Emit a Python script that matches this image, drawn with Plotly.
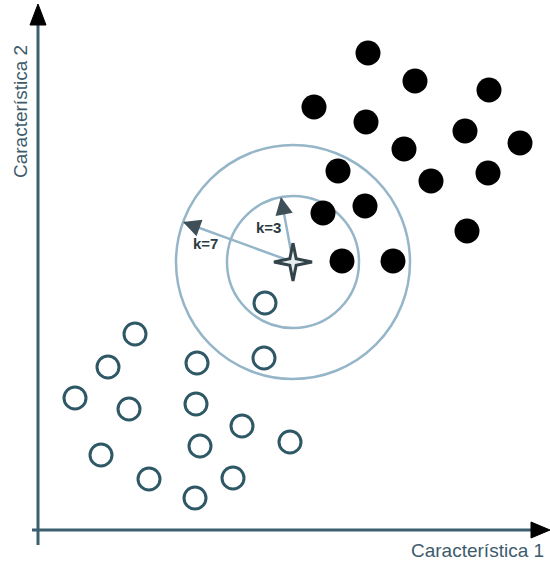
import math
import plotly.graph_objects as go

# ---- data (feature space, pixel-like units; y grows downward) ----
class_a_x = [368, 415, 489, 314, 366, 465, 520, 404, 338, 488, 431, 365, 323, 467, 342, 393]
class_a_y = [53, 81, 90, 107, 122, 131, 143, 149, 171, 173, 181, 206, 213, 231, 261, 261]

class_b_x = [265, 135, 108, 197, 264, 75, 129, 196, 242, 290, 101, 200, 149, 233, 195]
class_b_y = [303, 334, 367, 363, 358, 398, 409, 404, 426, 442, 455, 446, 479, 478, 498]

query_x = [293]
query_y = [262]

k_labels = ["k=3", "k=7"]
k_radius = [66, 117]
k_angle_deg = [259.5, 200.0]
k_label_x = [268, 205]
k_label_y = [227, 243]

axis_title_x = "Característica 1"
axis_title_y = "Característica 2"

W, H = 550, 569
circle_col = "#95b5c8"
axis_col = "#3b5f6e"
text_col = "#2b3b42"
open_col = "#2f5866"

fig = go.Figure()

shapes = []
annotations = []

# neighbourhood circles
cx, cy = query_x[0], query_y[0]
for r in k_radius:
    shapes.append(dict(type="circle", xref="x", yref="y",
                       x0=cx - r, x1=cx + r, y0=cy - r, y1=cy + r,
                       line=dict(color=circle_col, width=2.5), layer="below"))

# radius arrows
for lab, r, ang, lx, ly in zip(k_labels, k_radius, k_angle_deg, k_label_x, k_label_y):
    a = math.radians(ang)
    tx, ty = cx + r * math.cos(a), cy + r * math.sin(a)
    shapes.append(dict(type="line", xref="x", yref="y", x0=cx, y0=cy, x1=tx, y1=ty,
                       line=dict(color=circle_col, width=2.5), layer="below"))
    bx, by = cx + (r - 12) * math.cos(a), cy + (r - 12) * math.sin(a)
    annotations.append(dict(x=tx, y=ty, ax=bx, ay=by, xref="x", yref="y",
                            axref="x", ayref="y", text="", showarrow=True,
                            arrowhead=2, arrowsize=1.4, arrowwidth=2.5,
                            arrowcolor="#3e4f57"))
    annotations.append(dict(x=lx, y=ly, xref="x", yref="y", text="<b>" + lab + "</b>",
                            showarrow=False, font=dict(size=15, color=text_col,
                                                       family="Liberation Sans, Arial")))

# axes lines and arrowheads
shapes.append(dict(type="line", xref="x", yref="y", x0=38, y0=545, x1=38, y1=18,
                   line=dict(color=axis_col, width=3)))
shapes.append(dict(type="line", xref="x", yref="y", x0=32, y0=530, x1=536, y1=530,
                   line=dict(color=axis_col, width=3)))
shapes.append(dict(type="path", xref="x", yref="y",
                   path="M 38 4 L 30 25 L 46 25 Z", fillcolor="black",
                   line=dict(color="black", width=1)))
shapes.append(dict(type="path", xref="x", yref="y",
                   path="M 550 530 L 531 522 L 531 538 Z", fillcolor="black",
                   line=dict(color="black", width=1)))

annotations.append(dict(x=20, y=112, xref="x", yref="y", text=axis_title_y, textangle=-90,
                        showarrow=False, font=dict(size=19, color="#3d5b6b",
                                                   family="Liberation Sans, Arial")))
annotations.append(dict(x=477, y=550, xref="x", yref="y", text=axis_title_x,
                        showarrow=False, font=dict(size=19, color="#3d5b6b",
                                                   family="Liberation Sans, Arial")))

# four-pointed star for the query point, built around its coordinates
star_x, star_y = [], []
R_out, R_in = 19, 4.5
for i in range(9):
    ang = math.radians(-90 + i * 45)
    rr = R_out if i % 2 == 0 else R_in
    star_x.append(query_x[0] + rr * math.cos(ang))
    star_y.append(query_y[0] + rr * math.sin(ang))

fig.add_trace(go.Scatter(x=class_a_x, y=class_a_y, mode="markers",
                         marker=dict(symbol="circle", size=25, color="black",
                                     line=dict(width=0)),
                         showlegend=False, hoverinfo="skip"))
fig.add_trace(go.Scatter(x=class_b_x, y=class_b_y, mode="markers",
                         marker=dict(symbol="circle-open", size=22, color=open_col,
                                     line=dict(width=3, color=open_col)),
                         showlegend=False, hoverinfo="skip"))
fig.add_trace(go.Scatter(x=star_x, y=star_y, mode="lines", fill="toself",
                         fillcolor="#e8eef0", line=dict(width=3, color="#33434a"),
                         showlegend=False, hoverinfo="skip"))

fig.update_layout(
    width=W, height=H, autosize=False,
    margin=dict(l=0, r=0, t=0, b=0),
    paper_bgcolor="white", plot_bgcolor="white",
    xaxis=dict(range=[0, W], visible=False, fixedrange=True),
    yaxis=dict(range=[H, 0], visible=False, fixedrange=True),
    shapes=shapes, annotations=annotations,
)

fig.write_html("out.html", config={"displayModeBar": False},
               post_script="document.body.style.margin='0';document.body.style.overflow='hidden';")
